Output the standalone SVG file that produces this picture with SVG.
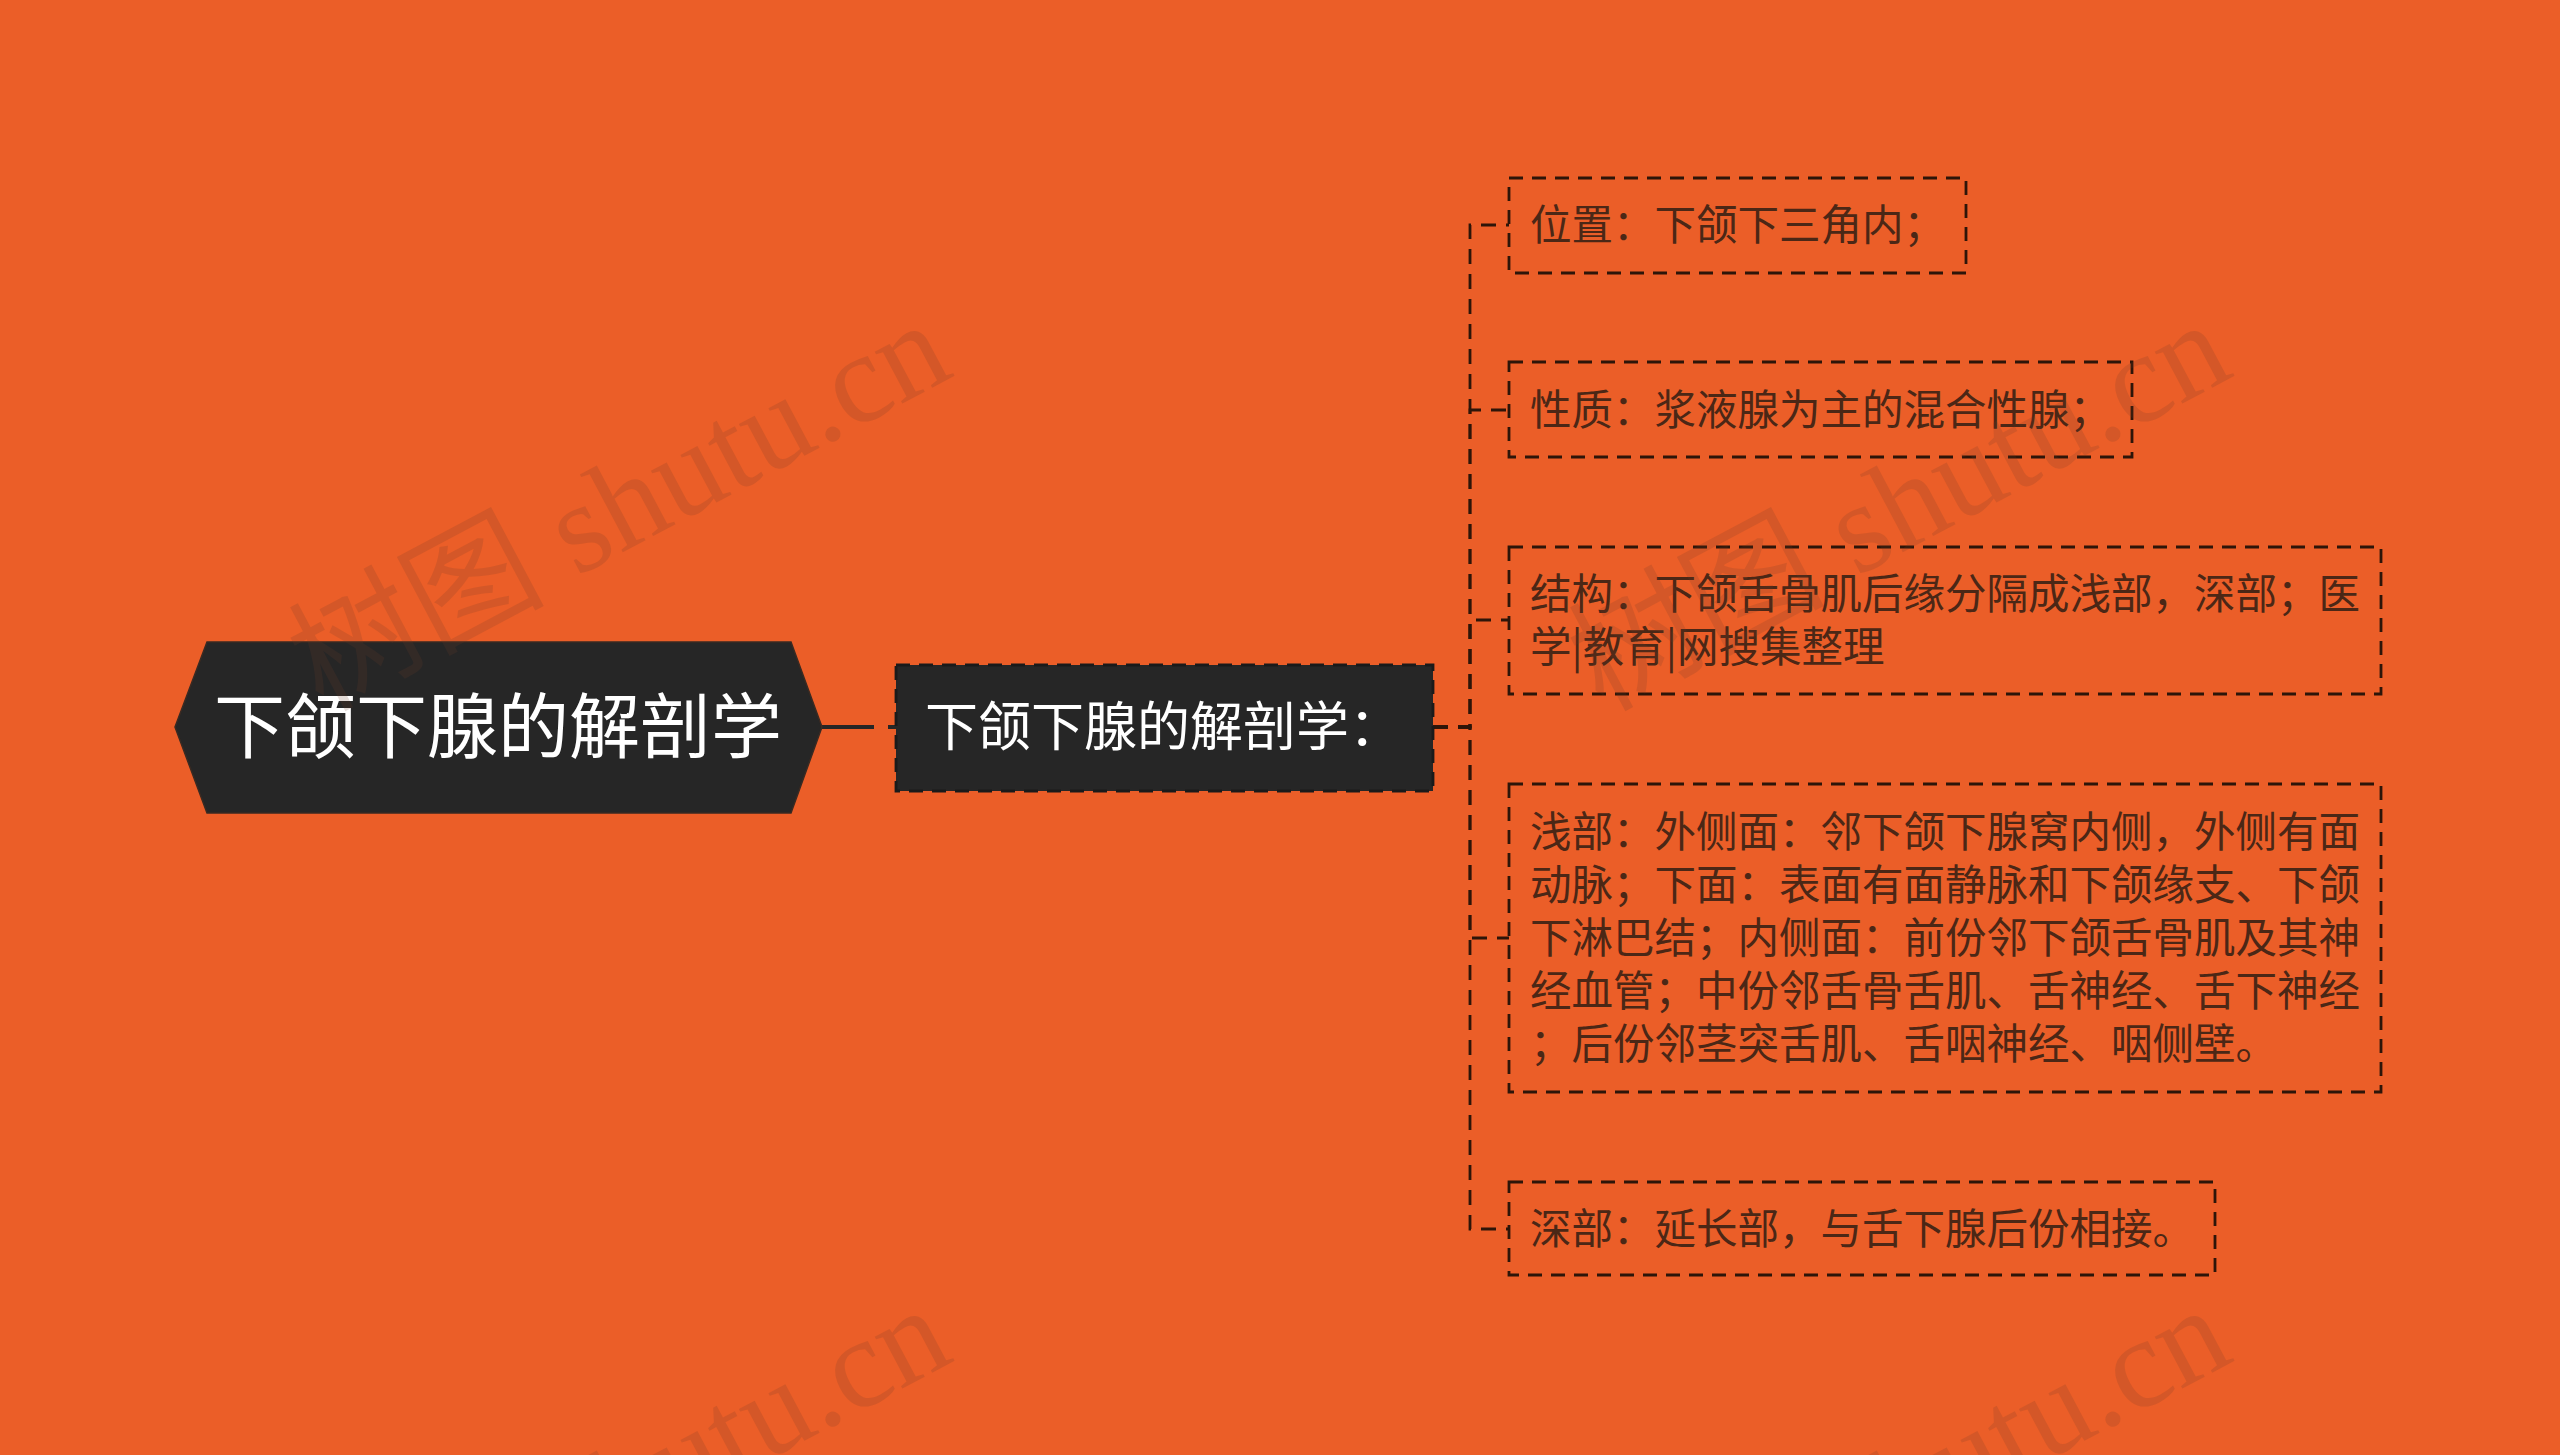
<svg xmlns="http://www.w3.org/2000/svg" width="2560" height="1455" viewBox="0 0 2560 1455">
<style>
.wm{font-family:"Liberation Serif","Noto Sans CJK SC",serif;font-size:128px;fill:#6e3c28;opacity:0.18}
.conn{fill:none;stroke:#2d1509;stroke-width:2.8;stroke-dasharray:15 10}
.leaf rect{fill:none;stroke:#2d1509;stroke-width:2.8;stroke-dasharray:14 9}
.leaf text{font-family:"Noto Sans CJK SC","Noto Sans",sans-serif;font-size:41.5px;fill:#4b2716}
.dark{fill:#262626}
.light{font-family:"Noto Sans CJK SC","Noto Sans",sans-serif;fill:#ffffff}
</style>
<rect x="0" y="0" width="2560" height="1455" fill="#EB5E28"/>
<g id="connectors">
<line x1="822" y1="727" x2="874" y2="727" stroke="#262626" stroke-width="4"/>
<line x1="888" y1="727" x2="896" y2="727" stroke="#262626" stroke-width="4"/>
<path class="conn" d="M1433,727 H1470 V225 H1509"/>
<path class="conn" d="M1433,727 H1470 V410 H1509"/>
<path class="conn" d="M1433,727 H1470 V620 H1509"/>
<path class="conn" d="M1433,727 H1470 V938 H1509"/>
<path class="conn" d="M1433,727 H1470 V1229 H1509"/>
</g>
<g id="root">
<polygon class="dark" points="175,727 207,642 791,642 822,727 791,813 207,813" stroke="#3a2a22" stroke-width="1.5"/>
<text class="light" x="498" y="752" font-size="71" text-anchor="middle">下颌下腺的解剖学</text>
</g>
<g id="main">
<rect class="dark" x="896" y="665" width="537" height="126" stroke="#1a1a1a" stroke-width="2.8" stroke-dasharray="14 9"/>
<text class="light" x="925" y="746" font-size="53">下颌下腺的解剖学：</text>
</g>
<g id="leaf1" class="leaf">
<rect x="1509" y="178" width="457" height="95"/>
<text x="1530" y="240">位置：下颌下三角内；</text>
</g>
<g id="leaf2" class="leaf">
<rect x="1509" y="362" width="623" height="95"/>
<text x="1530" y="425">性质：浆液腺为主的混合性腺；</text>
</g>
<g id="leaf3" class="leaf">
<rect x="1509" y="547" width="872" height="147"/>
<text x="1530" y="609">结构：下颌舌骨肌后缘分隔成浅部，深部；医</text>
<text x="1530" y="662">学|教育|网搜集整理</text>
</g>
<g id="leaf4" class="leaf">
<rect x="1509" y="784" width="872" height="308"/>
<text x="1530" y="847">浅部：外侧面：邻下颌下腺窝内侧，外侧有面</text>
<text x="1530" y="900">动脉；下面：表面有面静脉和下颌缘支、下颌</text>
<text x="1530" y="953">下淋巴结；内侧面：前份邻下颌舌骨肌及其神</text>
<text x="1530" y="1006">经血管；中份邻舌骨舌肌、舌神经、舌下神经</text>
<text x="1530" y="1059">；后份邻茎突舌肌、舌咽神经、咽侧壁。</text>
</g>
<g id="leaf5" class="leaf">
<rect x="1509" y="1182" width="706" height="93"/>
<text x="1530" y="1244">深部：延长部，与舌下腺后份相接。</text>
</g>
<g id="watermarks">
<text class="wm" transform="translate(565,583) rotate(-28)" x="-275" y="0">树图 shutu.cn</text>
<text class="wm" transform="translate(1845,583) rotate(-28)" x="-275" y="0">树图 shutu.cn</text>
<text class="wm" transform="translate(565,1568) rotate(-28)" x="-275" y="0">树图 shutu.cn</text>
<text class="wm" transform="translate(1845,1568) rotate(-28)" x="-275" y="0">树图 shutu.cn</text>
</g>
</svg>
